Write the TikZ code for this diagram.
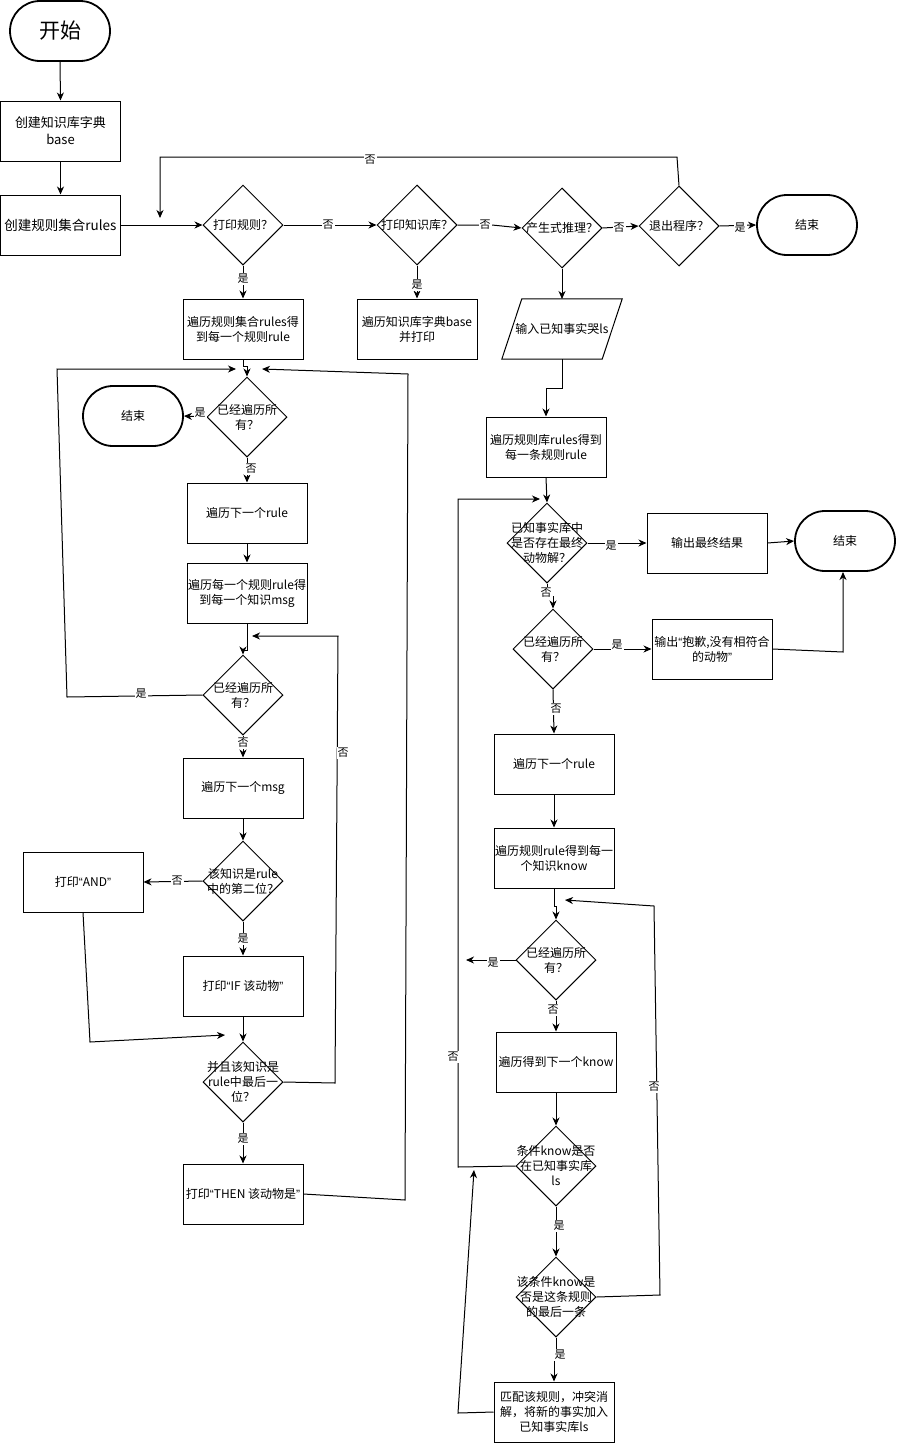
\documentclass[tikz,border=0pt]{standalone}
\usepackage{fontspec}
\setmainfont{Noto Sans CJK SC}
\newfontfamily\latf{Liberation Sans}
\newcommand\qo{{\latf “}}
\newcommand\qc{{\latf ”}}
\usetikzlibrary{shapes.geometric,arrows.meta}
\tikzset{
  boxst/.style={draw, line width=1pt, rectangle, minimum width=120pt, minimum height=60pt, inner sep=0pt, align=center, font=\fontsize{12}{15}\selectfont},
  diast/.style={draw, line width=1pt, diamond, minimum width=80pt, minimum height=80pt, inner sep=0pt, aspect=1},
  dtxt/.style={align=center, inner sep=0pt, font=\fontsize{12}{15}\selectfont},
  termst/.style={draw, line width=1.8pt, rectangle, rounded corners=30pt, minimum width=100pt, minimum height=60pt, font=\fontsize{12}{15}\selectfont},
  lbl/.style={fill=white, inner sep=1pt, font=\fontsize{11}{13}\selectfont},
  arr/.style={draw, line width=1pt, -{Stealth[length=8pt,width=7pt,inset=2.5pt]}},
  ln/.style={draw, line width=1pt},
}
\begin{document}
\begin{tikzpicture}[x=1pt,y=-1pt]
\useasboundingbox[fill=white] (0,0) rectangle (897,1443);

% ---------- top row ----------
\node[termst, font=\fontsize{21}{24}\selectfont] (start) at (60,31) {开始};
\node[boxst, font=\fontsize{13}{17}\selectfont] (b1) at (60.5,131) {创建知识库字典\\base};
\node[boxst, font=\fontsize{13.5}{17}\selectfont] (b2) at (60.5,225) {创建规则集合rules};

\node[diast] (d1) at (243,225) {};  \node[dtxt] (d1t) at (d1) {打印规则？};
\node[diast] (d2) at (417,225) {};  \node[dtxt] (d2t) at (d2) {打印知识库？};
\node[diast] (d3) at (562,228) {};  \node[dtxt] (d3t) at (d3) {产生式推理？};
\node[diast] (d4) at (679,226) {};  \node[dtxt] (d4t) at (d4) {退出程序？};
\node[termst] (e1) at (807,225) {结束};

\node[boxst] (b3) at (243,329) {遍历规则集合rules得\\到每一个规则rule};
\node[boxst] (b4) at (417,329) {遍历知识库字典base\\并打印};

% parallelogram
\node[dtxt, minimum width=100pt, minimum height=60pt] (p1) at (562,329) {输入已知事实哭ls};
\draw[ln] ([xshift=-10pt]p1.south west) -- ([xshift=-10pt]p1.south east) -- ([xshift=10pt]p1.north east) -- ([xshift=10pt]p1.north west) -- cycle;
\coordinate (p1top) at (562,299);
\coordinate (p1bot) at (562,359);

% ---------- right column ----------
\node[boxst] (b5) at (546,447) {遍历规则库rules得到\\每一条规则rule};
\node[diast] (d5) at (547,543) {};  \node[dtxt] (d5t) at (d5) {已知事实库中\\是否存在最终\\动物解？};
\node[boxst] (b6) at (707,543) {输出最终结果};
\node[termst] (e2) at (845,541) {结束};
\node[diast] (d6) at (553,649) {};  \node[dtxt] (d6t) at (d6) {已经遍历所\\有？};
\node[boxst] (b7) at (712,649) {输出\qo 抱歉,没有相符合\\的动物\qc};
\node[boxst] (b8) at (554,764) {遍历下一个rule};
\node[boxst] (b9) at (554,858) {遍历规则rule得到每一\\个知识know};
\node[diast] (d7) at (556,960) {};  \node[dtxt] (d7t) at (d7) {已经遍历所\\有？};
\node[boxst] (b10) at (556,1062) {遍历得到下一个know};
\node[diast] (d8) at (556,1166) {};  \node[dtxt] (d8t) at (d8) {条件know是否\\在已知事实库\\ls};
\node[diast] (d9) at (556,1297) {};  \node[dtxt] (d9t) at (d9) {该条件know是\\否是这条规则\\的最后一条};
\node[boxst] (b11) at (554,1412) {匹配该规则，冲突消\\解，将新的事实加入\\已知事实库ls};

% ---------- left column ----------
\node[diast] (dl1) at (247,417) {};  \node[dtxt] (dl1t) at (dl1) {已经遍历所\\有？};
\node[termst] (e3) at (133,416) {结束};
\node[boxst] (b12) at (247,513) {遍历下一个rule};
\node[boxst] (b13) at (247,593) {遍历每一个规则rule得\\到每一个知识msg};
\node[diast] (dl2) at (243,695) {};  \node[dtxt] (dl2t) at (dl2) {已经遍历所\\有？};
\node[boxst] (b14) at (243,788) {遍历下一个msg};
\node[diast] (dl3) at (243,881) {};  \node[dtxt] (dl3t) at (dl3) {该知识是rule\\中的第二位？};
\node[boxst] (b15) at (83,882) {打印\qo AND\qc};
\node[boxst] (b16) at (243,986) {打印\qo IF 该动物\qc};
\node[diast] (dl4) at (243,1082) {};  \node[dtxt] (dl4t) at (dl4) {并且该知识是\\rule中最后一\\位？};
\node[boxst] (b17) at (243,1194) {打印\qo THEN 该动物是\qc};

% ---------- free ends ----------
\coordinate (c1) at (160,218);
\coordinate (c2) at (466,960);
\coordinate (c3) at (540,499);
\coordinate (c4) at (565,900);
\coordinate (c5) at (474,1170);
\coordinate (c6) at (236,369);
\coordinate (c7) at (262,369);
\coordinate (c8) at (225,1035);
\coordinate (c9) at (252,636);

% ---------- connectors: top ----------
\draw[arr] (start.south) -- (b1.north);
\draw[arr] (b1.south) -- (b2.north);
\draw[arr] (b2.east) -- (d1.west);
\draw[arr] (d4.north) -- (677,157) -- (160,157) -- (c1);
\draw[arr] (d1.east) -- (d2.west);
\draw[arr] (d2.east) -- (492,225) -- (d3.west);
\draw[arr] (d3.east) -- (d4.west);
\draw[arr] (d4.east) -- (e1.west);
\draw[arr] (d1.south) -- (b3.north);
\draw[arr] (d2.south) -- (b4.north);
\draw[arr] (d3.south) -- (p1top);
\draw[arr] (p1bot) -- (562,388) -- (546,388) -- (b5.north);

% ---------- connectors: right ----------
\draw[arr] (b5.south) -- (d5.north);
\draw[arr] (d5.east) -- (b6.west);
\draw[arr] (b6.east) -- (e2.west);
\draw[arr] (d5.south) -- (547,596) -- (553,596) -- (d6.north);
\draw[arr] (d6.east) -- (b7.west);
\draw[arr] (b7.east) -- (843,652) -- (843,572);
\draw[arr] (d6.south) -- (b8.north);
\draw[arr] (b8.south) -- (b9.north);
\draw[arr] (b9.south) -- (554,906) -- (556,906) -- (d7.north);
\draw[arr] (d7.west) -- (c2);
\draw[arr] (d7.south) -- (b10.north);
\draw[arr] (b10.south) -- (d8.north);
\draw[arr] (d8.west) -- (458,1167) -- (458,499) -- (c3);
\draw[arr] (d8.south) -- (d9.north);
\draw[arr] (d9.east) -- (660,1295) -- (654,906) -- (c4);
\draw[arr] (d9.south) -- (556,1360) -- (554,1360) -- (b11.north);
\draw[arr] (b11.west) -- (458,1413) -- (c5);

% ---------- connectors: left ----------
\draw[arr] (b3.south) -- (243,366) -- (247,366) -- (dl1.north);
\draw[arr] (dl1.west) -- (e3.east);
\draw[arr] (dl1.south) -- (b12.north);
\draw[arr] (b12.south) -- (b13.north);
\draw[arr] (b13.south) -- (247,650) -- (243,650) -- (dl2.north);
\draw[arr] (dl2.west) -- (67,697) -- (57,369) -- (c6);
\draw[arr] (dl2.south) -- (b14.north);
\draw[arr] (b14.south) -- (dl3.north);
\draw[arr] (dl3.west) -- (b15.east);
\draw[arr] (dl3.south) -- (b16.north);
\draw[arr] (b15.south) -- (90,1042) -- (c8);
\draw[arr] (b16.south) -- (dl4.north);
\draw[arr] (dl4.east) -- (335,1083) -- (338,636) -- (c9);
\draw[arr] (dl4.south) -- (b17.north);
\draw[arr] (b17.east) -- (405,1200) -- (408,374) -- (c7);

% ---------- edge labels ----------
\node[lbl] (l1) at (370,160) {否};
\node[lbl] (l2) at (328,225) {否};
\node[lbl] (l3) at (485,225) {否};
\node[lbl] (l4) at (619,228) {否};
\node[lbl] (l5) at (740,228) {是};
\node[lbl] (l6) at (243,279) {是};
\node[lbl] (l7) at (417,285) {是};
\node[lbl] (l8) at (611,546) {是};
\node[lbl] (l9) at (546,593) {否};
\node[lbl] (l10) at (617,645) {是};
\node[lbl] (l11) at (556,709) {否};
\node[lbl] (l12) at (493,963) {是};
\node[lbl] (l13) at (553,1010) {否};
\node[lbl] (l14) at (453,1057) {否};
\node[lbl] (l15) at (654,1087) {否};
\node[lbl] (l16) at (559,1226) {是};
\node[lbl] (l17) at (560,1355) {是};
\node[lbl] (l18) at (200,413) {是};
\node[lbl] (l19) at (251,469) {否};
\node[lbl] (l20) at (141,694) {是};
\node[lbl] (l21) at (243,743) {否};
\node[lbl] (l22) at (177,881) {否};
\node[lbl] (l23) at (243,939) {是};
\node[lbl] (l24) at (343,753) {否};
\node[lbl] (l25) at (243,1139) {是};
\end{tikzpicture}
\end{document}
